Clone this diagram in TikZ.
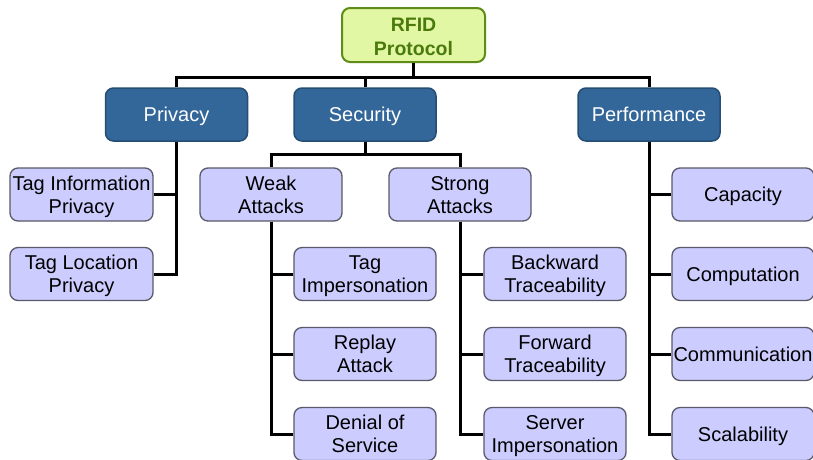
\documentclass[tikz,border=0pt]{standalone}
\usepackage{fontspec}
\setmainfont{Liberation Sans}
\definecolor{leaf}{HTML}{CCCCFF}
\definecolor{leafdraw}{HTML}{5A5A6A}
\definecolor{midfill}{HTML}{336699}
\definecolor{middraw}{HTML}{264D73}
\definecolor{rootfill}{HTML}{E2F7A3}
\definecolor{rootdraw}{HTML}{5E8C17}
\definecolor{roottext}{HTML}{4A7A0C}
\tikzset{
  box/.style={rectangle, rounded corners=8pt, minimum width=142pt, minimum height=53pt,
    inner sep=0pt},
  txt/.style={align=center, inner sep=0pt, yshift=-2.5pt, font=\fontsize{20}{23}\selectfont},
  rootbox/.style={box, fill=rootfill, draw=rootdraw, line width=2pt,
    minimum width=143pt, minimum height=54pt},
  roottxt/.style={txt, yshift=1pt, text=roottext, font=\fontsize{19.5}{24}\selectfont\bfseries},
  midbox/.style={box, fill=midfill, draw=middraw, line width=1.5pt},
  midtxt/.style={txt, text=white},
  leafbox/.style={box, fill=leaf, draw=leafdraw, line width=1.3pt},
  leaftxt/.style={txt, text=black},
  conn/.style={line width=3pt, black}
}
\newcommand\leafnode[4][]{\node[leafbox,#1,label={[leaftxt]center:{#4}}] (#2) at (#3) {};}
\newcommand\midnode[3]{\node[midbox,label={[midtxt]center:{#3}}] (#1) at (#2) {};}
\begin{document}
\begin{tikzpicture}[x=1pt,y=-1pt]
\useasboundingbox (0,0) rectangle (813,459);
\fill[white] (0,0) rectangle (813,459);
% root
\node[rootbox,label={[roottxt]center:{RFID\\Protocol}}] (rfid) at (413.5,35) {};
% level 1
\midnode{privacy}{176.5,114.5}{Privacy\strut}
\midnode{security}{365,114.5}{Security\strut}
\midnode{performance}{649,114.5}{Performance\strut}
% privacy children
\leafnode[minimum width=143pt]{taginfo}{81.5,194.5}{Tag Information\strut\\Privacy\strut}
\leafnode[minimum width=143pt]{tagloc}{81.5,274}{Tag Location\strut\\Privacy\strut}
% security children
\leafnode{weak}{271,194.5}{Weak\strut\\Attacks\strut}
\leafnode{strong}{460,194.5}{Strong\strut\\Attacks\strut}
\leafnode{tagimp}{365,274}{Tag\strut\\Impersonation\strut}
\leafnode{replay}{365,354}{Replay\strut\\Attack\strut}
\leafnode{dos}{365,434}{Denial of\strut\\Service\strut}
\leafnode{backward}{555,274}{Backward\strut\\Traceability\strut}
\leafnode{forward}{555,354}{Forward\strut\\Traceability\strut}
\leafnode{server}{555,434}{Server\strut\\Impersonation\strut}
% performance children
\leafnode{capacity}{743,194.5}{Capacity\strut}
\leafnode{computation}{743,274}{Computation\strut}
\leafnode{communication}{743,354}{Communication\strut}
\leafnode{scalability}{743,434}{Scalability\strut}
% connectors
\draw[conn] (rfid.south) -- (rfid.south |- 0,78);
\draw[conn] (privacy.north) -- ++(0,-10) -| (performance.north);
\draw[conn] (security.north) -- ++(0,-10);
\draw[conn] (security.south) -- ++(0,14);
\draw[conn] (weak.north) -- ++(0,-13) -| (strong.north);
\draw[conn] (privacy.south) |- (tagloc.east);
\draw[conn] (taginfo.east) -- (taginfo.east -| privacy.south);
\draw[conn] (weak.south) |- (dos.west);
\draw[conn] (tagimp.west) -- (tagimp.west -| weak.south);
\draw[conn] (replay.west) -- (replay.west -| weak.south);
\draw[conn] (strong.south) |- (server.west);
\draw[conn] (backward.west) -- (backward.west -| strong.south);
\draw[conn] (forward.west) -- (forward.west -| strong.south);
\draw[conn] (performance.south) |- (scalability.west);
\draw[conn] (capacity.west) -- (capacity.west -| performance.south);
\draw[conn] (computation.west) -- (computation.west -| performance.south);
\draw[conn] (communication.west) -- (communication.west -| performance.south);
\end{tikzpicture}
\end{document}
